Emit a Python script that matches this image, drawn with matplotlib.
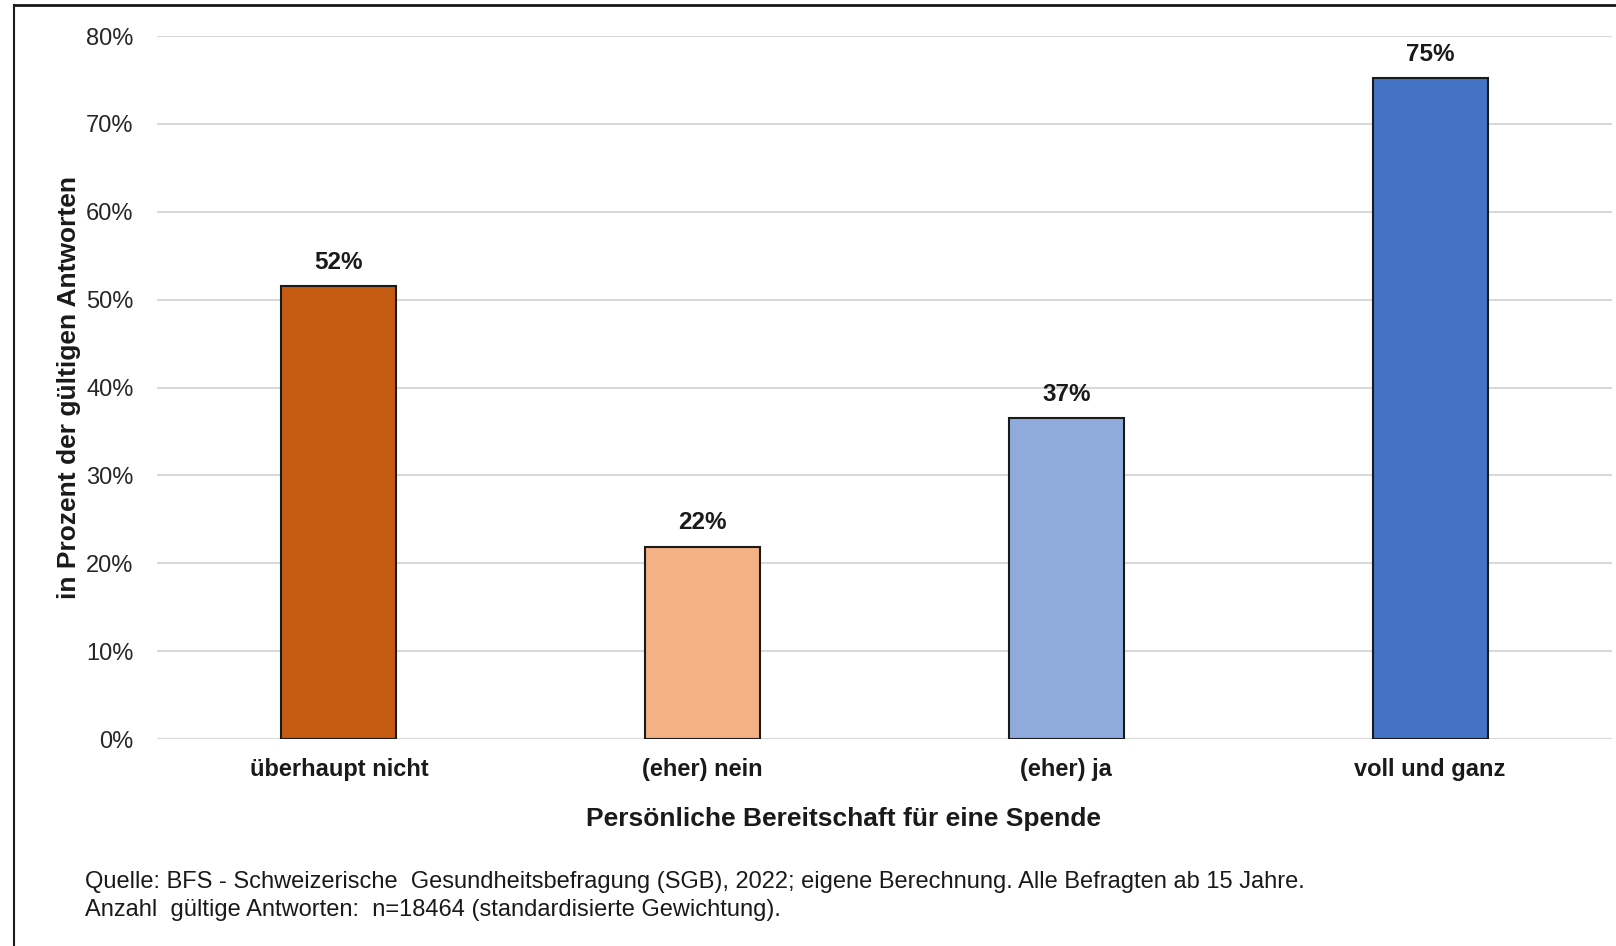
import matplotlib.pyplot as plt
from matplotlib.lines import Line2D
from matplotlib.ticker import FuncFormatter

plt.rcParams['font.family'] = ['Liberation Sans', 'DejaVu Sans']

categories = ['überhaupt nicht', '(eher) nein', '(eher) ja', 'voll und ganz']
values = [51.5, 21.9, 36.5, 75.2]
labels = ['52%', '22%', '37%', '75%']
colors = ['#C55A11', '#F4B183', '#8FAADC', '#4472C4']
yticks = [0, 10, 20, 30, 40, 50, 60, 70, 80]

fig = plt.figure(figsize=(16.16, 9.46), dpi=100)
ax = fig.add_axes([0.0972, 0.2188, 0.9003, 0.7431])

x = range(len(categories))
bars = ax.bar(x, values, width=0.316, color=colors, edgecolor='#1a1a1a', linewidth=1.5, zorder=3)
for b, t in zip(bars, labels):
    ax.annotate(t, (b.get_x() + b.get_width() / 2, b.get_height()), xytext=(0, 9),
                textcoords='offset points', ha='center', va='bottom',
                fontsize=17.5, fontweight='bold', color='#1a1a1a')

ax.set_xlim(-0.5, 3.5)
ax.set_ylim(0, 80)
ax.set_yticks(yticks)
ax.yaxis.set_major_formatter(FuncFormatter(lambda v, p: f'{v:.0f}%'))
ax.set_xticks(list(x))
ax.set_xticklabels(categories, fontsize=17, fontweight='bold', color='#1a1a1a')
ax.tick_params(axis='y', length=0, pad=17, labelsize=17, labelcolor='#262626')
ax.tick_params(axis='x', length=0, pad=14)
ax.grid(axis='y', color='#d9d9d9', linewidth=1.5, zorder=0)
for s in ax.spines.values():
    s.set_visible(False)

ax.set_xlabel('Persönliche Bereitschaft für eine Spende', fontsize=19, fontweight='bold',
              color='#1a1a1a')
ax.xaxis.set_label_coords(0.4715, -0.096)
ax.set_ylabel('in Prozent der gültigen Antworten', fontsize=19, fontweight='bold',
              color='#1a1a1a')
ax.yaxis.set_label_coords(-0.052, 0.5)

fig.text(85 / 1616, 1 - 882 / 946, 'Quelle: BFS - Schweizerische  Gesundheitsbefragung (SGB), 2022; eigene Berechnung. Alle Befragten ab 15 Jahre.',
         fontsize=17, va='center', color='#1a1a1a')
fig.text(85 / 1616, 1 - 910 / 946, 'Anzahl  gültige Antworten:  n=18464 (standardisierte Gewichtung).',
         fontsize=17, va='center', color='#1a1a1a')

# frame lines (top and left only)
fig.add_artist(Line2D([14 / 1616, 1], [1 - 5 / 946, 1 - 5 / 946], color='#1a1a1a', linewidth=2, transform=fig.transFigure))
fig.add_artist(Line2D([14 / 1616, 14 / 1616], [1 - 5 / 946, 0], color='#1a1a1a', linewidth=1.5, transform=fig.transFigure))

fig.savefig('out.png', dpi=100)
